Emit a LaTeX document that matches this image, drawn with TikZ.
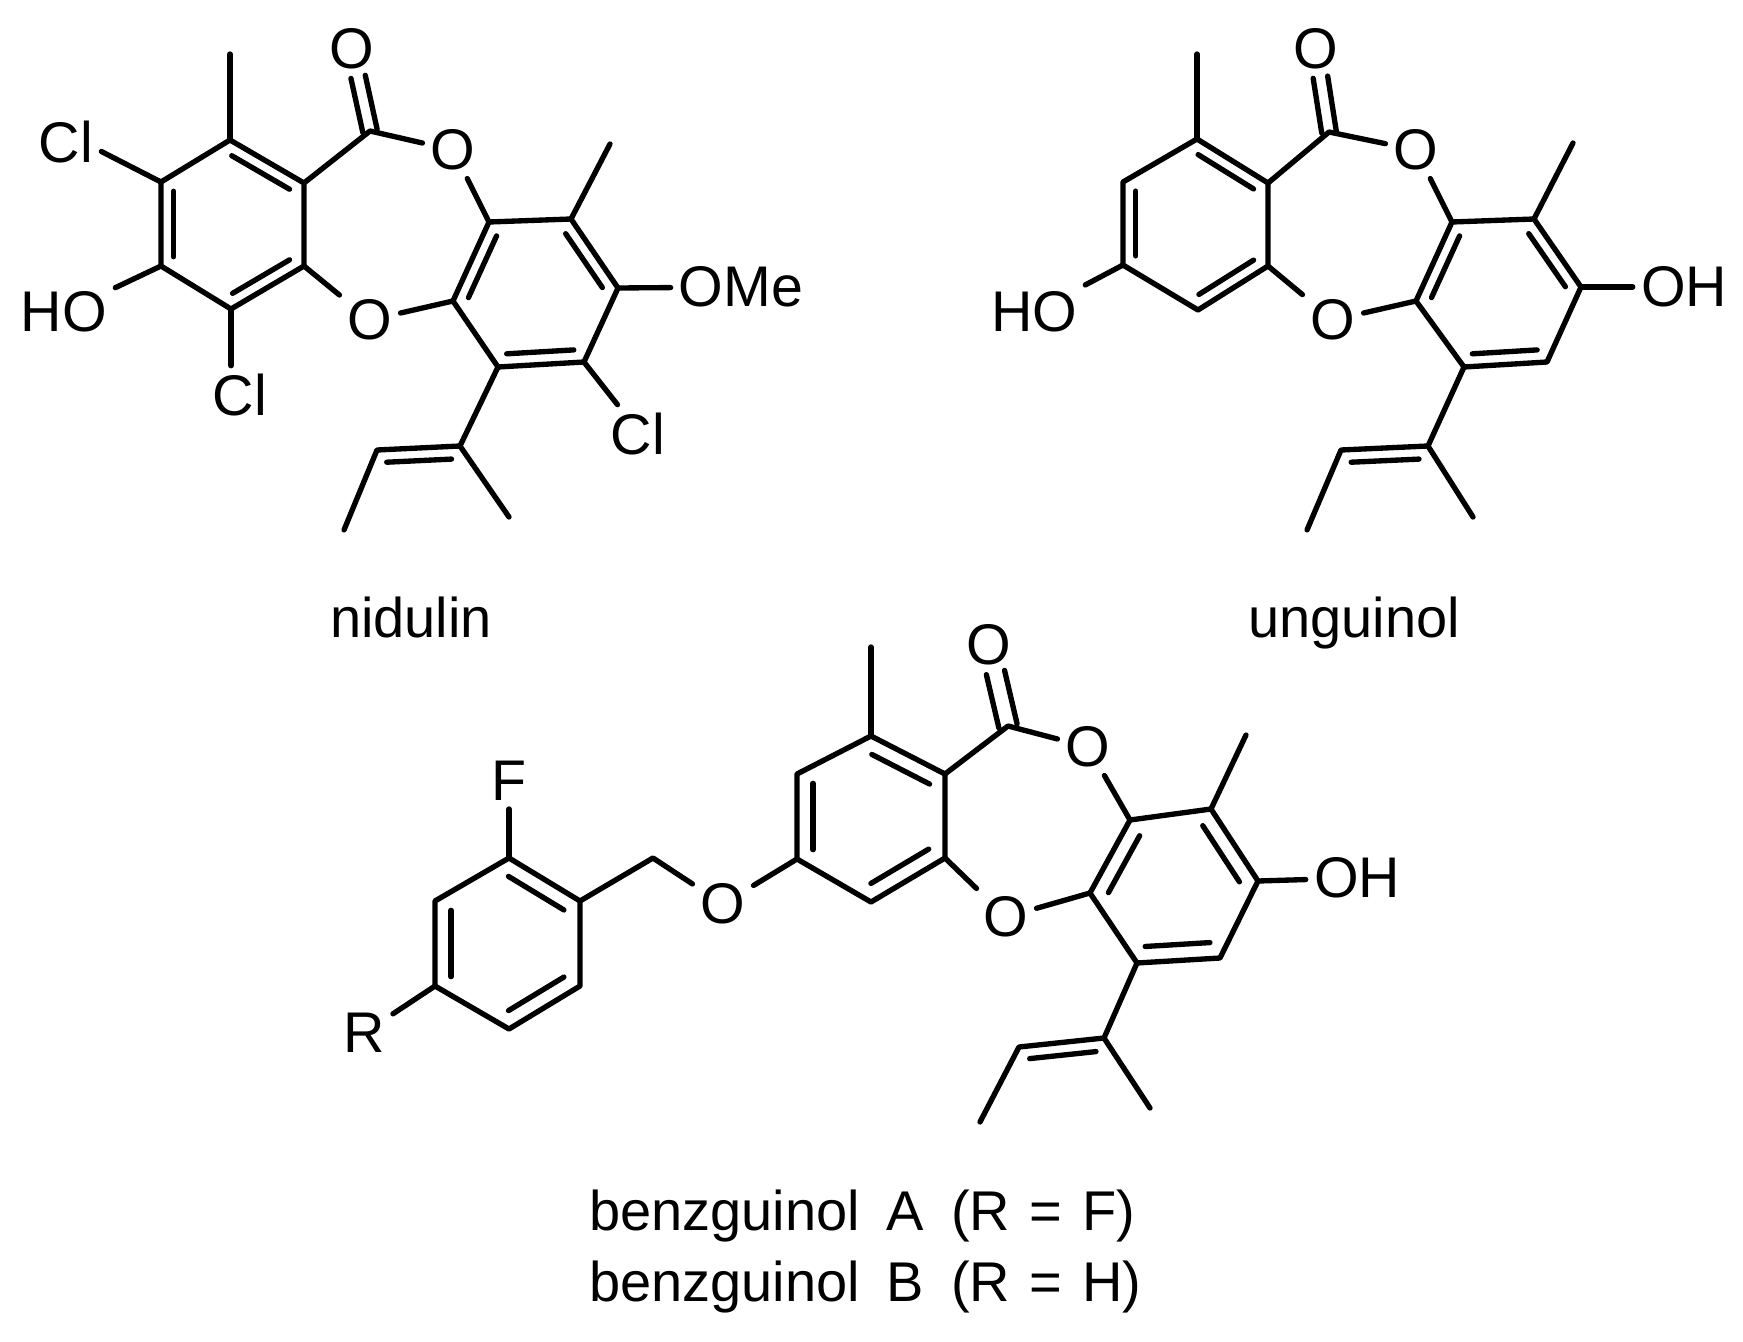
\documentclass[tikz,border=0pt]{standalone}
\usepackage{fontspec}
\setmainfont{Liberation Sans}
\usetikzlibrary{calc}
\tikzset{
bond/.style={line width=4pt,line cap=round,line join=round},
atom/.style={inner sep=6pt,font=\fontsize{43}{50}\selectfont},
caption/.style={inner sep=0pt,font=\fontsize{42}{50}\selectfont}}
% inner line of a ring double bond, on the left going from #2 to #3
\newcommand{\innerbond}[3][9.5pt]{\draw [bond] ($(#2)!.11!(#3)!#1!-90:(#3)$) -- ($(#2)!.89!(#3)!#1!-90:(#3)$);}
% C=O drawn as two lines either side of the axis
\newcommand{\carbonyl}[3][5.5pt]{%
\draw [bond] ($(#2)!#1!90:(#3)$) -- ($(#2)!.66!(#3)!#1!90:(#3)$);
\draw [bond] ($(#2)!#1!-90:(#3)$) -- ($(#2)!.66!(#3)!#1!-90:(#3)$);}

\begin{document}
\begin{tikzpicture}[x=0.75pt,y=0.75pt,yscale=-1,xscale=1]
\useasboundingbox (0,0) rectangle (1743,1342);

%nidulin: carbons
\coordinate (n1) at (230,140);
\coordinate (n2) at (161,182);
\coordinate (n3) at (161,266);
\coordinate (n4) at (231,309);
\coordinate (n5) at (304,266);
\coordinate (n6) at (304,183);
\coordinate (n7) at (370,131);
\coordinate (n8) at (489,222);
\coordinate (n9) at (571,219);
\coordinate (n10) at (618,288);
\coordinate (n11) at (584,362);
\coordinate (n12) at (498,367);
\coordinate (n13) at (453,301);
\coordinate (n14) at (460,446);
\coordinate (n15) at (377,450);
\coordinate (nMeA) at (230,54);
\coordinate (nMeB) at (610,144);
\coordinate (nMeC) at (344,530);
\coordinate (nMeD) at (509,517);
% Text Node
\node [atom] (nOx) at (352,49) {O};
\node [atom] (nOa) at (453,150) {O};
\node [atom] (nOb) at (370,320) {O};
\node [atom] (nClA) at (66,142) {Cl};
\node [atom] (nHO) at (64,312) {HO};
\node [atom] (nClB) at (240,395) {Cl};
\node [atom] (nOMe) at (741,287) {OMe};
\node [atom] (nClC) at (638,434) {Cl};
\node [caption,anchor=base] (nName) at (411,637) {nidulin};
%nidulin: bonds
\draw [bond] (n1) -- (n2) -- (n3) -- (n4) -- (n5) -- (n6) -- cycle;
\draw [bond] (n8) -- (n9) -- (n10) -- (n11) -- (n12) -- (n13) -- cycle;
\draw [bond] (n6) -- (n7) -- (nOa) -- (n8);
\draw [bond] (n5) -- (nOb) -- (n13);
\draw [bond] (n1) -- (nMeA);
\draw [bond] (n9) -- (nMeB);
\draw [bond] (n2) -- (nClA.-15);
\draw [bond] (n3) -- (nHO);
\draw [bond] (n4) -- (n4 |- nClB.north);
\draw [bond] (n10) -- (nOMe);
\draw [bond] (n11) -- (nClC.125);
\draw [bond] (n12) -- (n14) -- (n15) -- (nMeC);
\draw [bond] (n14) -- (nMeD);
\carbonyl{n7}{nOx}
\innerbond{n2}{n3}
\innerbond{n4}{n5}
\innerbond{n6}{n1}
\innerbond{n8}{n13}
\innerbond{n12}{n11}
\innerbond{n10}{n9}
\innerbond{n14}{n15}

%unguinol: carbons
\coordinate (u1) at (1197,139);
\coordinate (u2) at (1123,182);
\coordinate (u3) at (1123,265);
\coordinate (u4) at (1198,310);
\coordinate (u5) at (1268,266);
\coordinate (u6) at (1268,183);
\coordinate (u7) at (1329,132);
\coordinate (u8) at (1452,222);
\coordinate (u9) at (1534,219);
\coordinate (u10) at (1581,287);
\coordinate (u11) at (1547,362);
\coordinate (u12) at (1464,367);
\coordinate (u13) at (1416,301);
\coordinate (u14) at (1428,446);
\coordinate (u15) at (1341,450);
\coordinate (uMeA) at (1197,54);
\coordinate (uMeB) at (1573,143);
\coordinate (uMeC) at (1307,530);
\coordinate (uMeD) at (1473,517);
% Text Node
\node [atom] (uOx) at (1316,49) {O};
\node [atom] (uOa) at (1416,150) {O};
\node [atom] (uOb) at (1333,320) {O};
\node [atom] (uHO) at (1034,312) {HO};
\node [atom] (uOH) at (1684,287) {OH};
\node [caption,anchor=base] (uName) at (1354,637) {unguinol};
%unguinol: bonds
\draw [bond] (u1) -- (u2) -- (u3) -- (u4) -- (u5) -- (u6) -- cycle;
\draw [bond] (u8) -- (u9) -- (u10) -- (u11) -- (u12) -- (u13) -- cycle;
\draw [bond] (u6) -- (u7) -- (uOa) -- (u8);
\draw [bond] (u5) -- (uOb) -- (u13);
\draw [bond] (u1) -- (uMeA);
\draw [bond] (u9) -- (uMeB);
\draw [bond] (u3) -- (uHO);
\draw [bond] (u10) -- (uOH);
\draw [bond] (u12) -- (u14) -- (u15) -- (uMeC);
\draw [bond] (u14) -- (uMeD);
\carbonyl{u7}{uOx}
\innerbond{u2}{u3}
\innerbond{u4}{u5}
\innerbond{u6}{u1}
\innerbond{u8}{u13}
\innerbond{u12}{u11}
\innerbond{u10}{u9}
\innerbond{u14}{u15}

%benzguinol: carbons
\coordinate (b1) at (871,736);
\coordinate (b2) at (797,774);
\coordinate (b3) at (797,859);
\coordinate (b4) at (871,902);
\coordinate (b5) at (945,858);
\coordinate (b6) at (945,774);
\coordinate (b7) at (1008,726);
\coordinate (b8) at (1130,820);
\coordinate (b9) at (1211,809);
\coordinate (b10) at (1258,881);
\coordinate (b11) at (1220,958);
\coordinate (b12) at (1137,963);
\coordinate (b13) at (1090,893);
\coordinate (b14) at (1104,1038);
\coordinate (b15) at (1019,1047);
\coordinate (bMeA) at (871,647);
\coordinate (bMeB) at (1246,735);
\coordinate (bMeC) at (980,1122);
\coordinate (bMeD) at (1150,1108);
\coordinate (bCH) at (653,858);
\coordinate (p1) at (580,901);
\coordinate (p2) at (509,858);
\coordinate (p3) at (435,901);
\coordinate (p4) at (435,986);
\coordinate (p5) at (509,1029);
\coordinate (p6) at (580,986);
% Text Node
\node [atom] (bOx) at (989,645) {O};
\node [atom] (bOa) at (1088,747) {O};
\node [atom] (bOb) at (1006,917) {O};
\node [atom] (bOc) at (723,904) {O};
\node [atom] (bOH) at (1357,878) {OH};
\node [atom] (bF) at (509,781) {F};
\node [atom] (bR) at (364,1033) {R};
% Text Node
\node [caption,anchor=base west] (bNameA) at (589,1230) {benzguinol\hspace{.48em}A\hspace{.48em}(R\hspace{.35em}=\hspace{.35em}F)};
% Text Node
\node [caption,anchor=base west] (bNameB) at (589,1301) {benzguinol\hspace{.48em}B\hspace{.48em}(R\hspace{.35em}=\hspace{.35em}H)};
%benzguinol: bonds
\draw [bond] (b1) -- (b2) -- (b3) -- (b4) -- (b5) -- (b6) -- cycle;
\draw [bond] (b8) -- (b9) -- (b10) -- (b11) -- (b12) -- (b13) -- cycle;
\draw [bond] (p1) -- (p2) -- (p3) -- (p4) -- (p5) -- (p6) -- cycle;
\draw [bond] (b6) -- (b7) -- (bOa) -- (b8);
\draw [bond] (b5) -- (bOb) -- (b13);
\draw [bond] (b3) -- (bOc) -- (bCH) -- (p1);
\draw [bond] (b1) -- (bMeA);
\draw [bond] (b9) -- (bMeB);
\draw [bond] (b10) -- (bOH);
\draw [bond] (p2) -- (bF);
\draw [bond] (p4) -- (bR);
\draw [bond] (b12) -- (b14) -- (b15) -- (bMeC);
\draw [bond] (b14) -- (bMeD);
\carbonyl[7pt]{b7}{bOx}
\innerbond[12pt]{b2}{b3}
\innerbond[12pt]{b4}{b5}
\innerbond[12pt]{b6}{b1}
\innerbond[12pt]{b8}{b13}
\innerbond[12pt]{b12}{b11}
\innerbond[12pt]{b10}{b9}
\innerbond[9.5pt]{b14}{b15}
\innerbond[12pt]{p3}{p4}
\innerbond[12pt]{p5}{p6}
\innerbond[12pt]{p1}{p2}

\end{tikzpicture}
\end{document}
